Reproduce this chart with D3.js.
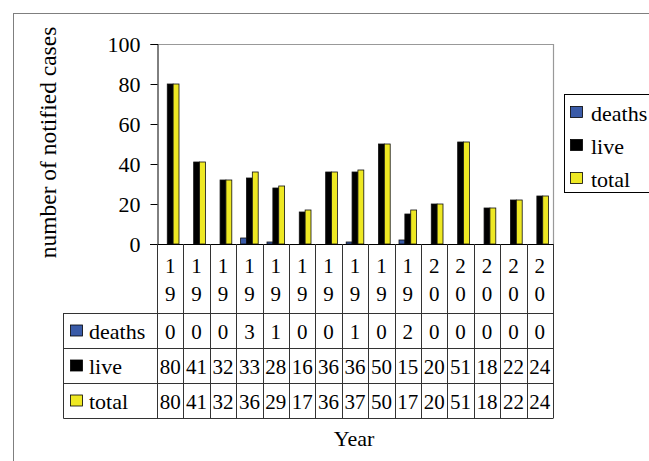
<!DOCTYPE html>
<html>
<head>
<meta charset="utf-8">
<script src="https://cdn.jsdelivr.net/npm/d3@7"></script>
<style>
  html, body { margin: 0; padding: 0; background: #fff; }
  svg { display: block; }
  svg text { font-family: "Liberation Serif", Tinos, "Times New Roman", Times, "DejaVu Serif", serif !important; fill: #000; }
</style>
</head>
<body>
<svg id="chart" width="649" height="461"></svg>
<script>
// ---- data ----
const categoryLabels = ["19","19","19","19","19","19","19","19","19","19","20","20","20","20","20"];
const seriesNames = ["deaths", "live", "total"];
const deaths = [0, 0, 0, 3, 1, 0, 0, 1, 0, 2, 0, 0, 0, 0, 0];
const live   = [80, 41, 32, 33, 28, 16, 36, 36, 50, 15, 20, 51, 18, 22, 24];
const total  = [80, 41, 32, 36, 29, 17, 36, 37, 50, 17, 20, 51, 18, 22, 24];
const yTicks = [0, 20, 40, 60, 80, 100];
const yTitle = "number of notified cases";
const xTitle = "Year";

const seriesValues = { deaths, live, total };
const colors = { deaths: "#3a5ba8", live: "#000000", total: "#eee823" };

const svg = d3.select("#chart");

// outer chart frame
svg.append("rect")
  .attr("x", 13.5).attr("y", 13.5).attr("width", 700).attr("height", 500)
  .attr("fill", "none").attr("stroke", "#7f7f7f").attr("stroke-width", 1);

// layout
const plotLeft = 157, plotRight = 553, plotTop = 44, plotBottom = 244;
const tableLeft = 63.5;
const catRowBottom = 313;
const rowH = 35;

const idx = d3.range(categoryLabels.length);
const x0 = d3.scaleBand().domain(idx).range([plotLeft, plotRight]).padding(0);
const x1 = d3.scaleBand().domain(seriesNames).range([0, x0.bandwidth()]).paddingInner(0).paddingOuter(0.75);
const y = d3.scaleLinear().domain([0, 100]).range([plotBottom, plotTop]);

// plot area border (top & right, gray)
svg.append("path")
  .attr("d", `M${plotLeft},${plotTop + 0.5}H${plotRight + 0.5}V${plotBottom}`)
  .attr("fill", "none").attr("stroke", "#999").attr("stroke-width", 1.2);

// bars
const barData = [];
idx.forEach(i => seriesNames.forEach(s => {
  const v = seriesValues[s][i];
  if (v > 0) barData.push({ i, s, v });
}));
svg.append("g").selectAll("rect").data(barData).join("rect")
  .attr("x", d => x0(d.i) + x1(d.s))
  .attr("y", d => y(d.v))
  .attr("width", x1.bandwidth())
  .attr("height", d => y(0) - y(d.v))
  .attr("fill", d => colors[d.s])
  .attr("stroke", "#111").attr("stroke-width", 0.8);

// y axis
const yAxis = d3.axisLeft(y).tickValues(yTicks).tickSize(7).tickPadding(10);
const gy = svg.append("g").attr("transform", `translate(${plotLeft + 0.5},0)`).call(yAxis);
gy.attr("font-family", null).attr("font-size", null);
gy.select(".domain").attr("stroke", "#000");
gy.selectAll(".tick line").attr("stroke", "#000");
gy.selectAll(".tick text")
  .attr("font-size", 22).attr("fill", "#000")
  .attr("dy", "0.36em");

// baseline
svg.append("line").attr("x1", plotLeft - 7).attr("x2", plotRight).attr("y1", plotBottom + 0.5).attr("y2", plotBottom + 0.5)
  .attr("stroke", "#000");

// y title
svg.append("text")
  .attr("transform", `translate(56,${(26 + 259) / 2}) rotate(-90)`)
  .attr("text-anchor", "middle").attr("font-size", 23.5)
  .text(yTitle);

// ---- data table ----
const tbl = svg.append("g").attr("stroke", "#333").attr("stroke-width", 1).attr("fill", "none");
const tableBottom = catRowBottom + rowH * seriesNames.length;
tbl.append("line").attr("x1", tableLeft).attr("x2", plotRight).attr("y1", catRowBottom + 0.5).attr("y2", catRowBottom + 0.5);
seriesNames.forEach((s, k) => {
  const yy = catRowBottom + rowH * (k + 1) + 0.5;
  tbl.append("line").attr("x1", tableLeft).attr("x2", plotRight).attr("y1", yy).attr("y2", yy);
});
tbl.append("line").attr("x1", tableLeft).attr("x2", tableLeft).attr("y1", catRowBottom).attr("y2", tableBottom + 0.5);
idx.concat([idx.length]).forEach(i => {
  const xx = Math.round(i < idx.length ? x0(i) : plotRight) + 0.5;
  tbl.append("line").attr("x1", xx).attr("x2", xx).attr("y1", plotBottom).attr("y2", tableBottom + 0.5);
});

// category labels (two stacked characters)
const catG = svg.append("g").attr("text-anchor", "middle");
idx.forEach(i => {
  const cx = x0(i) + x0.bandwidth() / 2;
  categoryLabels[i].split("").forEach((c, k) => {
    catG.append("text").attr("x", cx).attr("y", 273 + k * 28).attr("font-size", 21).text(c);
  });
});

// rows
seriesNames.forEach((s, k) => {
  const rowTop = catRowBottom + rowH * k;
  const cy = rowTop + rowH / 2;
  svg.append("rect").attr("x", 70.5).attr("y", cy - 5.5).attr("width", 12).attr("height", 11)
    .attr("fill", colors[s]).attr("stroke", "#000").attr("stroke-width", 0.8);
  svg.append("text").attr("x", 89).attr("y", cy + 8).attr("font-size", 22).text(s);
  const g = svg.append("g").attr("text-anchor", "middle");
  g.selectAll("text").data(idx).join("text")
    .attr("x", i => x0(i) + x0.bandwidth() / 2)
    .attr("y", cy + 8)
    .attr("font-size", 21)
    .text(i => seriesValues[s][i]);
});

// x title
svg.append("text").attr("x", 354).attr("y", 446).attr("text-anchor", "middle").attr("font-size", 22).text(xTitle);

// ---- legend ----
const lg = svg.append("g");
lg.append("rect").attr("x", 564.5).attr("y", 94.5).attr("width", 100).attr("height", 98)
  .attr("fill", "#fff").attr("stroke", "#000");
const legY = [112, 145, 178];
seriesNames.forEach((s, k) => {
  lg.append("rect").attr("x", 570.5).attr("y", legY[k] - 5.5).attr("width", 12).attr("height", 11)
    .attr("fill", colors[s]).attr("stroke", "#000").attr("stroke-width", 0.8);
  lg.append("text").attr("x", 591).attr("y", legY[k] + 9).attr("font-size", 22).text(s);
});
</script>
</body>
</html>
